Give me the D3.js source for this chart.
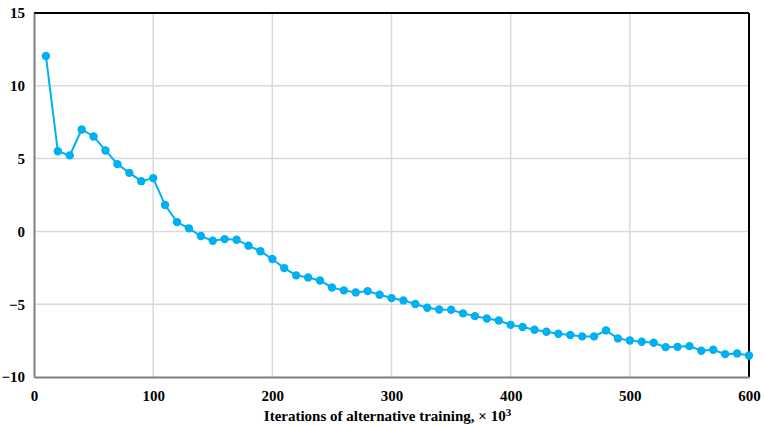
<!DOCTYPE html>
<html>
<head>
<meta charset="utf-8">
<script src="https://cdn.jsdelivr.net/npm/d3@7"></script>
<style>
  body { margin: 0; background: #fff; }
  text { font-family: "Liberation Serif", "Times New Roman", serif; font-weight: bold; }
</style>
</head>
<body>
<div class="chart"></div>
<script>
// Data.
const iterations = d3.range(10, 601, 10);
const lossValues = [
  12.05, 5.5, 5.22, 7.0, 6.52, 5.56, 4.62, 4.02, 3.45, 3.66,
  1.81, 0.64, 0.21, -0.32, -0.64, -0.53, -0.57, -0.98, -1.36, -1.9,
  -2.52, -3.02, -3.16, -3.37, -3.85, -4.05, -4.19, -4.1, -4.35, -4.58,
  -4.74, -4.99, -5.24, -5.36, -5.38, -5.63, -5.82, -5.98, -6.12, -6.42,
  -6.57, -6.75, -6.89, -7.03, -7.12, -7.21, -7.21, -6.8, -7.35, -7.49,
  -7.58, -7.65, -7.95, -7.93, -7.88, -8.2, -8.13, -8.43, -8.38, -8.52
];
const xTicks = [0, 100, 200, 300, 400, 500, 600];
const yTicks = [-10, -5, 0, 5, 10, 15];

const data = iterations.map((x, i) => ({ x: x, y: lossValues[i] }));

// Margin convention.
const margin = { top: 13, right: 15, bottom: 49, left: 34 };
const width = 764 - margin.left - margin.right;
const height = 426 - margin.top - margin.bottom;

const svg = d3
  .select(".chart")
  .append("svg")
  .attr("width", 764)
  .attr("height", 426)
  .append("g")
  .attr("transform", `translate(${margin.left}, ${margin.top})`);

// Scales.
const xScale = d3.scaleLinear().domain([0, 600]).range([0, width]);
const yScale = d3.scaleLinear().domain([-10, 15]).range([height, 0]);

// Grid lines.
svg
  .append("g")
  .selectAll("line")
  .data(xTicks.slice(1, -1))
  .enter()
  .append("line")
  .attr("x1", (d) => xScale(d))
  .attr("x2", (d) => xScale(d))
  .attr("y1", 0)
  .attr("y2", height)
  .style("stroke", "#d9d9d9")
  .style("stroke-width", 1.5);

svg
  .append("g")
  .selectAll("line")
  .data(yTicks.slice(1, -1))
  .enter()
  .append("line")
  .attr("x1", 0)
  .attr("x2", width)
  .attr("y1", (d) => yScale(d))
  .attr("y2", (d) => yScale(d))
  .style("stroke", "#d9d9d9")
  .style("stroke-width", 1.5);

// Frame: top and right black, left and bottom gray.
svg.append("line").attr("x1", 0).attr("x2", width).attr("y1", 0).attr("y2", 0)
  .style("stroke", "#000").style("stroke-width", 2);
svg.append("line").attr("x1", width).attr("x2", width).attr("y1", 0).attr("y2", height)
  .style("stroke", "#000").style("stroke-width", 2);

// Axes.
const xAxis = d3.axisBottom(xScale).tickValues(xTicks).tickSize(0).tickPadding(13);
const xAxisDraw = svg
  .append("g")
  .attr("transform", `translate(0, ${height})`)
  .call(xAxis);
xAxisDraw.select(".domain").style("stroke", "#7f7f7f").style("stroke-width", 2);
xAxisDraw.selectAll("text").style("font-size", "15px").style("fill", "#000");

const yAxis = d3.axisLeft(yScale).tickValues(yTicks).tickSize(0).tickPadding(9);
const yAxisDraw = svg.append("g").call(yAxis);
yAxisDraw.select(".domain").style("stroke", "#7f7f7f").style("stroke-width", 2);
yAxisDraw.selectAll("text").style("font-size", "15px").style("fill", "#000");

// Axis title.
const title = svg
  .append("text")
  .attr("x", width / 2 - 4)
  .attr("y", height + 44)
  .attr("text-anchor", "middle")
  .style("font-size", "15px")
  .style("fill", "#000");
title.append("tspan").text("Iterations of alternative training, \u00d7 10");
title.append("tspan").text("3").attr("dy", "-0.45em").style("font-size", "11px");

// Line and points.
const lineGen = d3
  .line()
  .x((d) => xScale(d.x))
  .y((d) => yScale(d.y));

svg
  .append("path")
  .datum(data)
  .attr("d", lineGen)
  .style("fill", "none")
  .style("stroke", "#00b0f0")
  .style("stroke-width", 2);

svg
  .append("g")
  .selectAll("circle")
  .data(data)
  .enter()
  .append("circle")
  .attr("r", 4.2)
  .attr("cx", (d) => xScale(d.x))
  .attr("cy", (d) => yScale(d.y))
  .attr("fill", "#00b0f0");
</script>
</body>
</html>
